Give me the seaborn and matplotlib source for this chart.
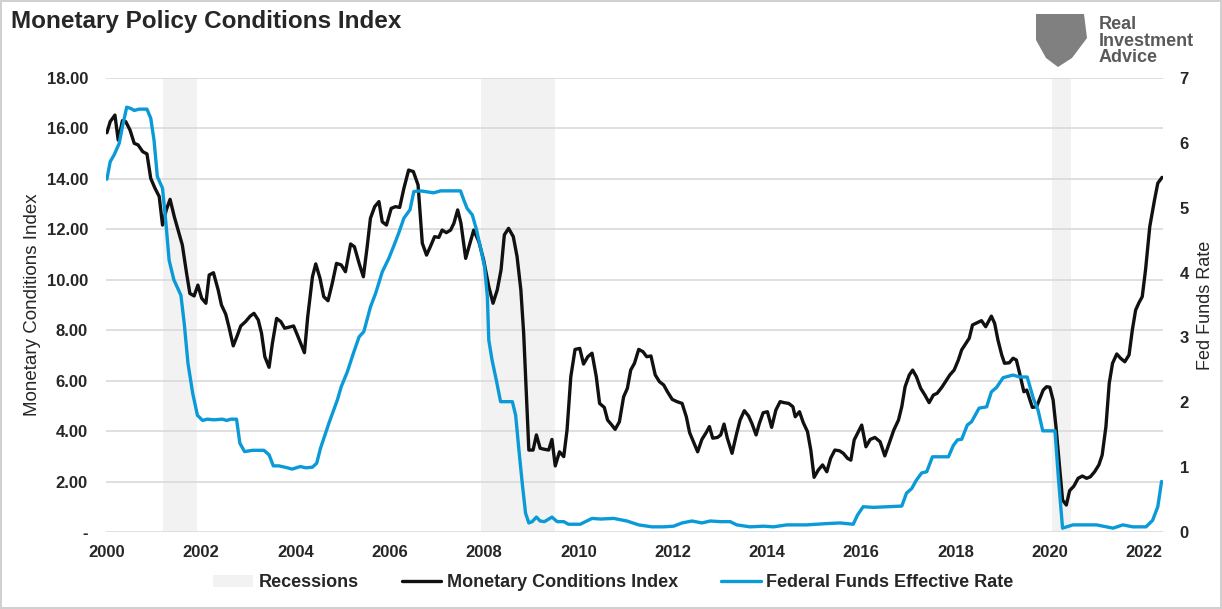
import numpy as np
import pandas as pd
import seaborn as sns
import matplotlib.pyplot as plt
from matplotlib.patches import Patch, Polygon
from matplotlib.lines import Line2D

# Monetary Conditions Index (left axis), decimal years
mci_year = [
    2000.00, 2000.07, 2000.17, 2000.24, 2000.33, 2000.40, 2000.49, 2000.58, 2000.66, 2000.76,
    2000.85, 2000.93, 2001.02, 2001.11, 2001.18, 2001.26, 2001.34, 2001.43, 2001.53, 2001.60,
    2001.69, 2001.76, 2001.85, 2001.93, 2002.01, 2002.10, 2002.17, 2002.26, 2002.36, 2002.43,
    2002.52, 2002.59, 2002.68, 2002.77, 2002.84, 2002.94, 2003.04, 2003.12, 2003.21, 2003.28,
    2003.35, 2003.44, 2003.51, 2003.60, 2003.69, 2003.77, 2003.86, 2003.96, 2004.04, 2004.11,
    2004.19, 2004.26, 2004.36, 2004.43, 2004.52, 2004.60, 2004.69, 2004.78, 2004.87, 2004.97,
    2005.06, 2005.17, 2005.25, 2005.35, 2005.44, 2005.52, 2005.59, 2005.68, 2005.77, 2005.84,
    2005.93, 2006.03, 2006.12, 2006.21, 2006.30, 2006.40, 2006.50, 2006.60, 2006.69, 2006.78,
    2006.86, 2006.95, 2007.04, 2007.11, 2007.20, 2007.29, 2007.36, 2007.44, 2007.51, 2007.61,
    2007.70, 2007.78, 2007.89, 2007.99, 2008.10, 2008.19, 2008.28, 2008.36, 2008.43, 2008.52,
    2008.62, 2008.70, 2008.78, 2008.84, 2008.90, 2008.95, 2009.04, 2009.11, 2009.19, 2009.28,
    2009.37, 2009.44, 2009.51, 2009.60, 2009.69, 2009.76, 2009.84, 2009.93, 2010.03, 2010.11,
    2010.20, 2010.29, 2010.38, 2010.45, 2010.55, 2010.62, 2010.71, 2010.78, 2010.87, 2010.96,
    2011.04, 2011.11, 2011.19, 2011.28, 2011.37, 2011.45, 2011.54, 2011.63, 2011.72, 2011.81,
    2011.89, 2011.99, 2012.09, 2012.20, 2012.29, 2012.36, 2012.44, 2012.53, 2012.62, 2012.71,
    2012.78, 2012.85, 2012.95, 2013.02, 2013.09, 2013.16, 2013.26, 2013.35, 2013.43, 2013.52,
    2013.61, 2013.68, 2013.77, 2013.84, 2013.92, 2014.01, 2014.10, 2014.19, 2014.28, 2014.36,
    2014.46, 2014.55, 2014.60, 2014.69, 2014.77, 2014.86, 2014.93, 2015.00, 2015.09, 2015.18,
    2015.27, 2015.35, 2015.44, 2015.54, 2015.62, 2015.71, 2015.78, 2015.85, 2015.94, 2016.01,
    2016.10, 2016.19, 2016.29, 2016.40, 2016.50, 2016.59, 2016.69, 2016.79, 2016.86, 2016.93,
    2017.02, 2017.09, 2017.17, 2017.26, 2017.35, 2017.44, 2017.53, 2017.61, 2017.71, 2017.80,
    2017.88, 2017.97, 2018.06, 2018.13, 2018.22, 2018.29, 2018.36, 2018.46, 2018.55, 2018.64,
    2018.76, 2018.83, 2018.90, 2018.98, 2019.04, 2019.14, 2019.22, 2019.29, 2019.36, 2019.45,
    2019.51, 2019.58, 2019.63, 2019.72, 2019.79, 2019.86, 2019.93, 2020.00, 2020.07, 2020.13,
    2020.20, 2020.27, 2020.35, 2020.42, 2020.51, 2020.60, 2020.69, 2020.78, 2020.86, 2020.95,
    2021.04, 2021.11, 2021.19, 2021.26, 2021.33, 2021.42, 2021.50, 2021.59, 2021.68, 2021.75,
    2021.82, 2021.89, 2021.96, 2022.03, 2022.12, 2022.22, 2022.29, 2022.38,
]
mci_value = [
    15.83, 16.27, 16.53, 15.54, 16.31, 16.27, 15.94, 15.41, 15.35, 15.08,
    14.99, 14.02, 13.63, 13.30, 12.17, 12.77, 13.19, 12.50, 11.84, 11.38,
    10.26, 9.46, 9.36, 9.79, 9.27, 9.07, 10.19, 10.28, 9.60, 9.00,
    8.64, 8.12, 7.38, 7.81, 8.17, 8.34, 8.56, 8.67, 8.41, 7.88,
    6.95, 6.53, 7.48, 8.47, 8.34, 8.08, 8.12, 8.17, 7.81, 7.48,
    7.11, 8.54, 10.12, 10.63, 10.06, 9.33, 9.17, 9.86, 10.65, 10.59,
    10.32, 11.42, 11.31, 10.65, 10.12, 11.30, 12.44, 12.90, 13.10, 12.30,
    12.17, 12.83, 12.90, 12.87, 13.63, 14.35, 14.29, 13.76, 11.45, 10.98,
    11.31, 11.71, 11.68, 11.97, 11.87, 11.97, 12.24, 12.77, 12.24, 10.85,
    11.45, 11.97, 11.51, 10.79, 9.73, 9.07, 9.60, 10.39, 11.78, 12.04,
    11.71, 10.92, 9.60, 7.88, 5.36, 3.25, 3.25, 3.85, 3.32, 3.28,
    3.25, 3.67, 2.62, 3.18, 2.99, 4.04, 6.16, 7.24, 7.28, 6.66,
    6.95, 7.09, 6.16, 5.10, 4.94, 4.44, 4.24, 4.07, 4.37, 5.36,
    5.70, 6.42, 6.69, 7.24, 7.15, 6.95, 6.98, 6.23, 5.96, 5.83,
    5.56, 5.26, 5.17, 5.10, 4.57, 3.94, 3.58, 3.18, 3.67, 3.94,
    4.18, 3.72, 3.75, 3.85, 4.28, 3.72, 3.12, 3.85, 4.44, 4.81,
    4.60, 4.31, 3.85, 4.31, 4.73, 4.77, 4.15, 4.84, 5.17, 5.13,
    5.10, 4.97, 4.57, 4.77, 4.34, 3.98, 3.25, 2.17, 2.46, 2.66,
    2.39, 2.92, 3.25, 3.22, 3.12, 2.92, 2.85, 3.65, 3.98, 4.24,
    3.38, 3.67, 3.75, 3.58, 3.02, 3.50, 4.04, 4.44, 4.97, 5.76,
    6.23, 6.42, 6.16, 5.70, 5.43, 5.13, 5.43, 5.50, 5.74, 6.00,
    6.23, 6.42, 6.82, 7.22, 7.48, 7.68, 8.21, 8.30, 8.38, 8.14,
    8.56, 8.27, 7.61, 7.02, 6.69, 6.71, 6.89, 6.82, 6.29, 5.56,
    5.63, 5.23, 4.94, 4.97, 5.30, 5.63, 5.76, 5.74, 5.23, 4.18,
    2.72, 1.27, 1.07, 1.64, 1.82, 2.13, 2.22, 2.13, 2.19, 2.39,
    2.66, 3.05, 4.18, 5.90, 6.69, 7.06, 6.89, 6.75, 7.02, 8.01,
    8.80, 9.09, 9.33, 10.39, 12.11, 13.16, 13.83, 14.06,
]

# Federal Funds Effective Rate (right axis)
ffr_year = [
    2000.00, 2000.07, 2000.15, 2000.26, 2000.33, 2000.42, 2000.51, 2000.58, 2000.68, 2000.85,
    2000.93, 2001.00, 2001.07, 2001.18, 2001.25, 2001.32, 2001.42, 2001.57, 2001.64, 2001.72,
    2001.82, 2001.92, 2002.03, 2002.13, 2002.27, 2002.45, 2002.54, 2002.63, 2002.75, 2002.82,
    2002.92, 2003.09, 2003.33, 2003.44, 2003.53, 2003.65, 2003.83, 2003.93, 2004.10, 2004.22,
    2004.36, 2004.45, 2004.53, 2004.71, 2004.89, 2004.97, 2005.10, 2005.23, 2005.35, 2005.45,
    2005.59, 2005.70, 2005.84, 2005.98, 2006.09, 2006.19, 2006.30, 2006.43, 2006.51, 2006.65,
    2006.93, 2007.08, 2007.50, 2007.57, 2007.64, 2007.75, 2007.84, 2007.92, 2008.01, 2008.07,
    2008.10, 2008.17, 2008.26, 2008.35, 2008.60, 2008.67, 2008.74, 2008.81, 2008.88, 2008.95,
    2009.02, 2009.11, 2009.19, 2009.28, 2009.37, 2009.44, 2009.55, 2009.69, 2009.79, 2010.04,
    2010.18, 2010.29, 2010.47, 2010.75, 2011.03, 2011.28, 2011.56, 2011.81, 2012.02, 2012.20,
    2012.41, 2012.62, 2012.80, 2013.01, 2013.22, 2013.36, 2013.64, 2013.93, 2014.14, 2014.42,
    2014.84, 2015.27, 2015.55, 2015.83, 2015.92, 2016.04, 2016.26, 2016.54, 2016.86, 2016.96,
    2017.07, 2017.17, 2017.28, 2017.39, 2017.51, 2017.85, 2017.95, 2018.04, 2018.13, 2018.25,
    2018.34, 2018.50, 2018.66, 2018.76, 2018.87, 2019.01, 2019.22, 2019.36, 2019.52, 2019.65,
    2019.75, 2019.85, 2020.11, 2020.18, 2020.27, 2020.49, 2020.99, 2021.34, 2021.55, 2021.76,
    2022.04, 2022.18, 2022.29, 2022.37,
]
ffr_value = [
    5.44, 5.71, 5.81, 5.99, 6.25, 6.55, 6.53, 6.50, 6.52, 6.52,
    6.38, 6.04, 5.48, 5.30, 4.78, 4.19, 3.89, 3.65, 3.22, 2.60,
    2.14, 1.80, 1.72, 1.74, 1.73, 1.74, 1.72, 1.74, 1.74, 1.37,
    1.24, 1.26, 1.26, 1.19, 1.02, 1.02, 0.99, 0.97, 1.01, 0.99,
    1.00, 1.06, 1.29, 1.68, 2.04, 2.24, 2.47, 2.76, 3.01, 3.09,
    3.47, 3.68, 4.01, 4.22, 4.42, 4.61, 4.84, 4.97, 5.25, 5.26,
    5.23, 5.26, 5.26, 5.12, 4.99, 4.89, 4.66, 4.40, 4.09, 3.63,
    2.96, 2.65, 2.34, 2.01, 2.01, 1.80, 1.26, 0.75, 0.29, 0.14,
    0.16, 0.23, 0.17, 0.16, 0.20, 0.23, 0.16, 0.16, 0.12, 0.12,
    0.17, 0.21, 0.20, 0.21, 0.17, 0.11, 0.08, 0.08, 0.09, 0.14,
    0.17, 0.14, 0.17, 0.16, 0.16, 0.11, 0.08, 0.09, 0.08, 0.11,
    0.11, 0.13, 0.14, 0.12, 0.26, 0.39, 0.38, 0.39, 0.40, 0.60,
    0.67, 0.80, 0.91, 0.93, 1.16, 1.16, 1.33, 1.42, 1.43, 1.65,
    1.70, 1.91, 1.93, 2.16, 2.23, 2.38, 2.42, 2.39, 2.39, 2.06,
    1.88, 1.56, 1.56, 0.85, 0.06, 0.11, 0.11, 0.06, 0.11, 0.08,
    0.08, 0.18, 0.39, 0.78,
]

# NBER recessions (start, end)
rec_start = [2001.19, 2007.94, 2020.04]
rec_end = [2001.91, 2009.51, 2020.44]

year_ticks = list(range(2000, 2023, 2))
left_ticks = [0, 2, 4, 6, 8, 10, 12, 14, 16, 18]
left_labels = ["-", "2.00", "4.00", "6.00", "8.00", "10.00", "12.00", "14.00", "16.00", "18.00"]
right_ticks = [0, 1, 2, 3, 4, 5, 6, 7]

BLUE = "#0a9ad8"
BLACK = "#111111"
GRID = "#d9d9d9"
REC = "#f2f2f2"

sns.set_style("white")
plt.rcParams["font.family"] = ["Liberation Sans", "DejaVu Sans"]

mci = pd.DataFrame({"year": mci_year, "value": mci_value})
ffr = pd.DataFrame({"year": ffr_year, "value": ffr_value})

fig = plt.figure(figsize=(12.22, 6.09), dpi=100)
fig.patch.set_edgecolor("#d0d0d0")
fig.patch.set_linewidth(1.5)
ax = fig.add_axes([0.0867, 0.1264, 0.865, 0.7455])
ax2 = ax.twinx()

# recessions and grid live on the bottom axes, so both lines draw over them
for s, e in zip(rec_start, rec_end):
    ax.axvspan(s, e, color=REC, lw=0, zorder=0)

ax.set_ylim(0, 18)
ax.set_yticks(left_ticks)
ax.set_yticklabels(left_labels)
ax.yaxis.grid(True, color=GRID, lw=1.2, zorder=1)
ax.set_axisbelow(True)

sns.lineplot(data=mci, x="year", y="value", ax=ax, color=BLACK, lw=2.4, zorder=4)
sns.lineplot(data=ffr, x="year", y="value", ax=ax2, color=BLUE, lw=2.4, zorder=3)

ax.set_xlim(1999.98, 2022.4)
ax.set_xticks(year_ticks)
ax2.set_ylim(0, 7)
ax2.set_yticks(right_ticks)

ax.set_xlabel("")
ax.set_ylabel("Monetary Conditions Index", fontsize=13.5, labelpad=4)
ax2.set_ylabel("Fed Funds Rate", fontsize=13, labelpad=6)

for a in (ax, ax2):
    for sp in a.spines.values():
        sp.set_visible(False)
    a.tick_params(length=0)
ax.tick_params(axis="y", pad=13, labelsize=12)
ax.tick_params(axis="x", pad=9, labelsize=12)
ax2.tick_params(axis="y", pad=12, labelsize=12)
for lab in ax.get_xticklabels() + ax.get_yticklabels() + ax2.get_yticklabels():
    lab.set_fontweight("bold")

fig.text(0.009, 0.965, "Monetary Policy Conditions Index", fontsize=17.5,
         fontweight="bold", va="center", ha="left")

# logo: grey shield and wordmark
shield_px = [(1036, 14), (1084, 14), (1087, 38), (1072, 58), (1058, 67), (1046, 58), (1036, 40)]
fig.patches.append(Polygon([(x / 1222, 1 - y / 609) for x, y in shield_px],
                           closed=True, transform=fig.transFigure,
                           facecolor="#808080", edgecolor="none"))
fig.text(1099 / 1222, 1 - 41 / 609, "Real\nInvestment\nAdvice", fontsize=13,
         fontweight="bold", color="#5a5a5a", va="center", ha="left", linespacing=0.95)

handles = [
    Patch(facecolor=REC, edgecolor="none"),
    Line2D([], [], color=BLACK, lw=2.4),
    Line2D([], [], color=BLUE, lw=2.4),
]
labels = ["Recessions", "Monetary Conditions Index", "Federal Funds Effective Rate"]
fig.legend(handles, labels, loc="center", bbox_to_anchor=(0.502, 0.043), ncol=3,
           frameon=False, prop={"weight": "bold", "size": 13}, handlelength=2.2,
           handletextpad=0.3, columnspacing=2.4)

fig.savefig("out.png", dpi=100)
